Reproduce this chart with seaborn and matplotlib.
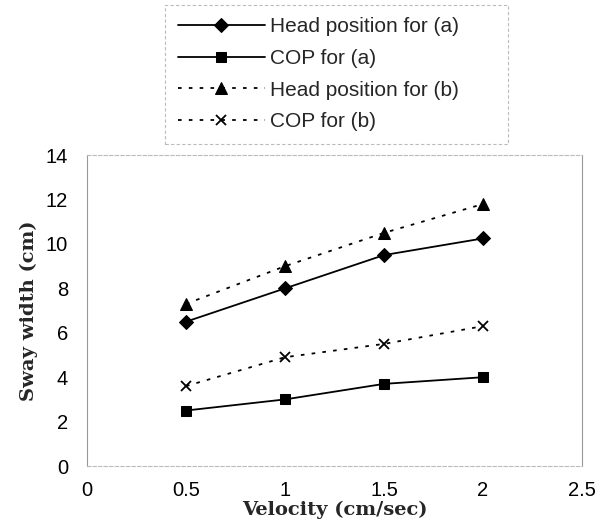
import matplotlib
matplotlib.use("Agg")
import matplotlib.pyplot as plt
import seaborn as sns
import pandas as pd

velocity = [0.5, 1.0, 1.5, 2.0]
head_a = [6.5, 8.0, 9.5, 10.25]
cop_a = [2.5, 3.0, 3.7, 4.0]
head_b = [7.3, 9.0, 10.5, 11.8]
cop_b = [3.6, 4.9, 5.5, 6.3]
series_names = ["Head position for (a)", "COP for (a)", "Head position for (b)", "COP for (b)"]
x_ticks = [0, 0.5, 1, 1.5, 2, 2.5]
y_ticks = [0, 2, 4, 6, 8, 10, 12, 14]

sns.set_theme(style="white")
plt.rcParams['font.family'] = ['Liberation Sans', 'DejaVu Sans']

fig = plt.figure(figsize=(6.1, 5.26), dpi=100)
ax = fig.add_axes([0.1426, 0.114, 0.954 - 0.1426, 0.705 - 0.114])

styles = [
    dict(marker="D", markersize=7, linestyle="-", mfc="black", mec="black"),
    dict(marker="s", markersize=7.5, linestyle="-", mfc="black", mec="black"),
    dict(marker="^", markersize=8, linestyle=(0, (2, 4)), mfc="black", mec="black"),
    dict(marker="x", markersize=7.5, linestyle=(0, (2, 4)), mfc="black", mec="black", mew=1.3),
]
values = [head_a, cop_a, head_b, cop_b]
for name, vals, st in zip(series_names, values, styles):
    df = pd.DataFrame({"Velocity": velocity, "Sway": vals})
    sns.lineplot(data=df, x="Velocity", y="Sway", ax=ax, color="black", lw=1.3,
                 label=name, **st)

ax.set_xlim(0, 2.5)
ax.set_ylim(0, 14)
ax.set_xticks(x_ticks)
ax.set_xticklabels([f"{t:g}" for t in x_ticks])
ax.set_yticks(y_ticks)
ax.tick_params(axis="x", labelsize=14.5, length=0, pad=11, colors="black")
ax.tick_params(axis="y", labelsize=14.5, length=0, pad=13.5, colors="black")

ax.set_xlabel("Velocity (cm/sec)", family="DejaVu Serif", fontweight="bold", fontsize=14, labelpad=0.5)
ax.set_ylabel("Sway width (cm)", family="DejaVu Serif", fontweight="bold", fontsize=14, labelpad=6)

for side in ["top", "bottom"]:
    ax.spines[side].set_color("#bbbbbb")
    ax.spines[side].set_linestyle((0, (3, 2)))
    ax.spines[side].set_linewidth(0.8)
for side in ["left", "right"]:
    ax.spines[side].set_color("#999999")
    ax.spines[side].set_linewidth(0.8)

leg = ax.legend(loc="upper left",
                bbox_to_anchor=(165 / 610, 1 - 145 / 526, 343 / 610, 140 / 526),
                bbox_transform=fig.transFigure, mode="expand",
                frameon=True, fontsize=15, handlelength=4.2, handletextpad=0.25,
                labelspacing=0.6, borderpad=0.6, borderaxespad=0, fancybox=False)
leg.get_frame().set_edgecolor("#aaaaaa")
leg.get_frame().set_linestyle((0, (3, 2)))
leg.get_frame().set_linewidth(0.8)

fig.savefig("out.png", dpi=100, facecolor="white")
